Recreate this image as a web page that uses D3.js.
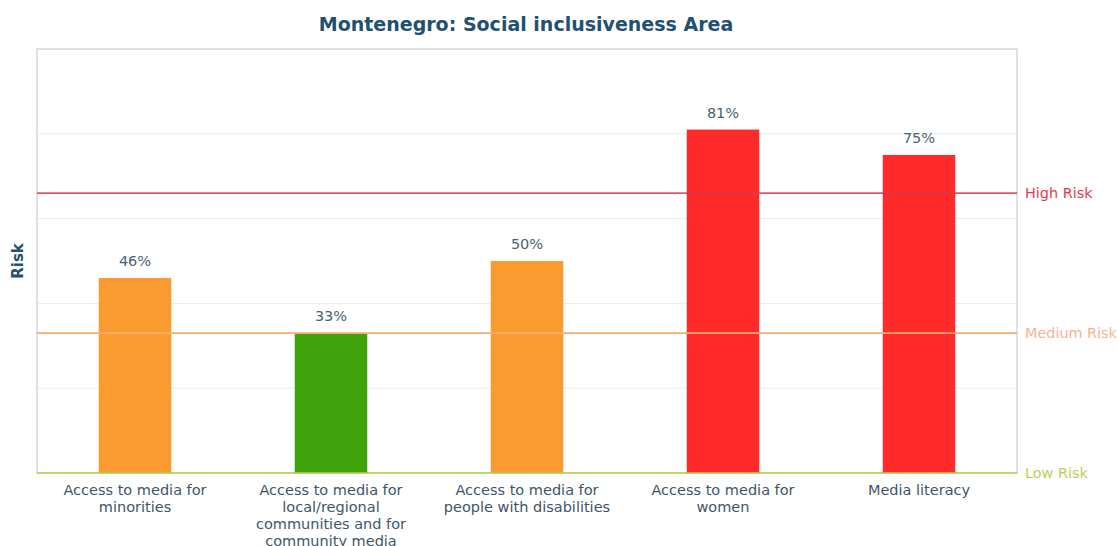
<!DOCTYPE html>
<html>
<head>
<meta charset="utf-8">
<script src="https://cdn.jsdelivr.net/npm/d3@7"></script>
<style>
  html, body { margin: 0; padding: 0; background: #ffffff; }
  svg { display: block; font-family: "DejaVu Sans", sans-serif; }
</style>
</head>
<body>
<svg id="chart" width="1117" height="546"></svg>
<script>
const categories = [
  "Access to media for minorities",
  "Access to media for local/regional communities and for community media",
  "Access to media for people with disabilities",
  "Access to media for women",
  "Media literacy"
];
const labelLines = [
  ["Access to media for", "minorities"],
  ["Access to media for", "local/regional", "communities and for", "community media"],
  ["Access to media for", "people with disabilities"],
  ["Access to media for", "women"],
  ["Media literacy"]
];
const values = [46, 33, 50, 81, 75];
const colorByLevel = { low: "#3fa40b", medium: "#fb9a2f", high: "#ff2b2b" };
const gridTicks = [20, 40, 60, 80];
const riskNames = ["Low Risk", "Medium Risk", "High Risk"];
const riskValues = [0, 33, 66];
const riskLineColors = ["#b5cf4a", "#f6ad72", "#d93a48"];
const riskTextColors = ["#b9cf5c", "#f6b58e", "#e03c52"];

const svg = d3.select("#chart");
const margin = { left: 37, right: 1117 - 1017, top: 49, bottom: 546 - 473 };
const W = 1117, H = 546;

const x = d3.scaleBand().domain(categories).range([margin.left, W - margin.right]).paddingInner(0.63).paddingOuter(0.315);
const y = d3.scaleLinear().domain([0, 100]).range([H - margin.bottom, margin.top]);

function level(v) { return v > 66 ? "high" : (v > 33 ? "medium" : "low"); }

// gridlines
svg.append("g").selectAll("line").data(gridTicks).join("line")
  .attr("x1", margin.left).attr("x2", W - margin.right)
  .attr("y1", d => y(d)).attr("y2", d => y(d))
  .attr("stroke", "#e8ecee").attr("stroke-width", 1);

// plot border
svg.append("rect")
  .attr("x", margin.left).attr("y", margin.top)
  .attr("width", W - margin.right - margin.left)
  .attr("height", y(0) - margin.top)
  .attr("fill", "none").attr("stroke", "#d3d9dc").attr("stroke-width", 1.5);

// bars
svg.append("g").selectAll("rect").data(values).join("rect")
  .attr("x", (d, i) => x(categories[i]))
  .attr("width", x.bandwidth())
  .attr("y", d => y(d))
  .attr("height", d => y(0) - y(d))
  .attr("fill", d => colorByLevel[level(d)]);

// value labels
svg.append("g").selectAll("text").data(values).join("text")
  .attr("x", (d, i) => x(categories[i]) + x.bandwidth() / 2)
  .attr("y", d => y(d) - 12)
  .attr("text-anchor", "middle")
  .attr("font-size", 14.5)
  .attr("fill", "#4a6272")
  .text(d => d + "%");

// risk lines
svg.append("g").selectAll("line").data(riskValues).join("line")
  .attr("x1", margin.left).attr("x2", W - margin.right)
  .attr("y1", d => y(d)).attr("y2", d => y(d))
  .attr("stroke", (d, i) => riskLineColors[i])
  .attr("stroke-width", 1.6)
  .attr("stroke-opacity", (d, i) => i === 2 ? 0.85 : 1);

svg.append("g").selectAll("text").data(riskValues).join("text")
  .attr("x", W - margin.right + 8)
  .attr("y", d => y(d) + 5)
  .attr("font-size", 14.4)
  .attr("fill", (d, i) => riskTextColors[i])
  .text((d, i) => riskNames[i]);

// x axis labels
const xl = svg.append("g");
categories.forEach((c, i) => {
  const t = xl.append("text")
    .attr("x", x(c) + x.bandwidth() / 2)
    .attr("y", 495)
    .attr("text-anchor", "middle")
    .attr("font-size", 14.5)
    .attr("fill", "#3f5567");
  labelLines[i].forEach((ln, j) => {
    t.append("tspan").attr("x", x(c) + x.bandwidth() / 2).attr("dy", j === 0 ? 0 : 17).text(ln);
  });
});

// title
svg.append("text")
  .attr("x", 526).attr("y", 31)
  .attr("text-anchor", "middle")
  .attr("font-size", 19).attr("font-weight", "bold")
  .attr("fill", "#22506f")
  .text("Montenegro: Social inclusiveness Area");

// y title
svg.append("text")
  .attr("transform", "translate(23,261) rotate(-90)")
  .attr("text-anchor", "middle")
  .attr("font-size", 15).attr("font-weight", "bold")
  .attr("fill", "#22506f")
  .text("Risk");
</script>
</body>
</html>
